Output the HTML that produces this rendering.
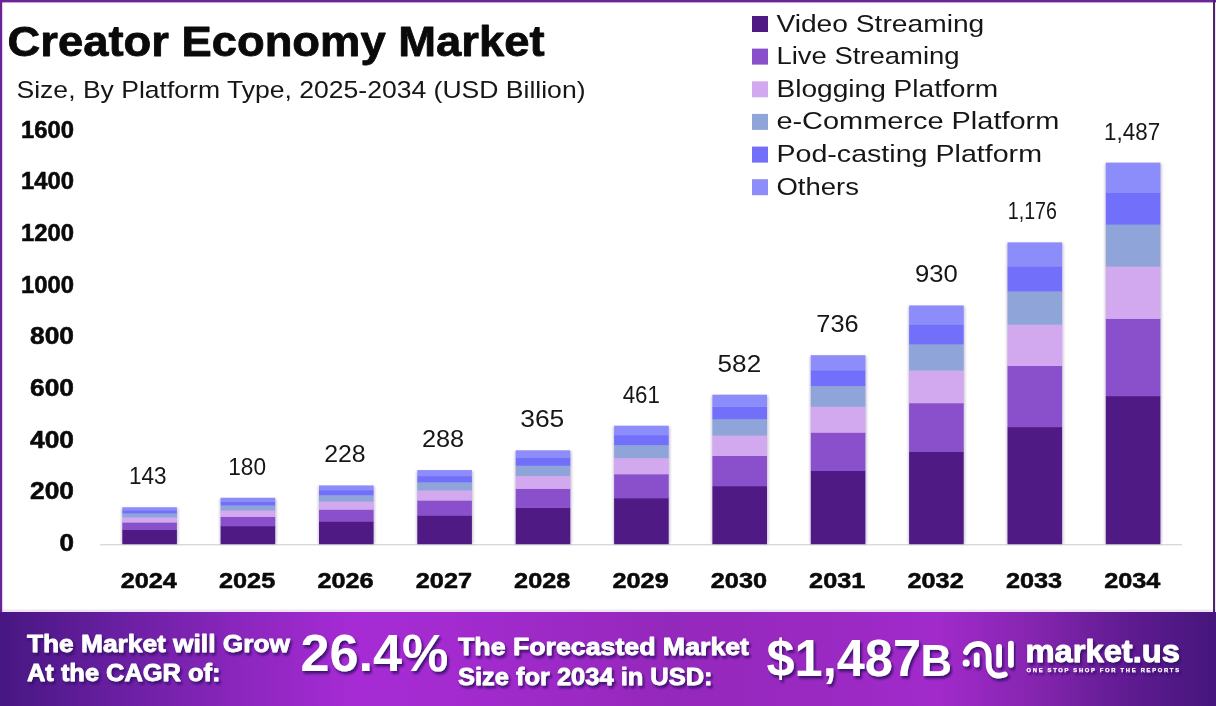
<!DOCTYPE html>
<html lang="en"><head><meta charset="utf-8"><title>Creator Economy Market</title>
<style>
html,body{margin:0;padding:0;background:#fff;}
body{width:1216px;height:706px;overflow:hidden;font-family:"Liberation Sans",sans-serif;}
svg{display:block}
svg text{font-family:"Liberation Sans",sans-serif;}
.b{font-weight:bold}
.k{fill:#0a0a0a;stroke:#0a0a0a;stroke-width:0.55px;stroke-linejoin:round}
.r{fill:#161616}
</style></head><body>
<svg width="1216" height="706" viewBox="0 0 1216 706">
<defs>
<linearGradient id="bg" x1="0" y1="0" x2="1" y2="0">
<stop offset="0" stop-color="#471782"/>
<stop offset="0.1" stop-color="#6a1fa2"/>
<stop offset="0.2" stop-color="#8c26be"/>
<stop offset="0.29" stop-color="#a62bd4"/>
<stop offset="0.36" stop-color="#a42bd0"/>
<stop offset="0.55" stop-color="#9528bc"/>
<stop offset="0.68" stop-color="#9a29c2"/>
<stop offset="0.77" stop-color="#a22acb"/>
<stop offset="0.85" stop-color="#8525b0"/>
<stop offset="0.93" stop-color="#5e1b90"/>
<stop offset="1" stop-color="#45167c"/>
</linearGradient>
<filter id="sh" x="-20%" y="-20%" width="140%" height="140%"><feGaussianBlur stdDeviation="1.2"/></filter>
<filter id="ts" x="-10%" y="-20%" width="120%" height="150%"><feDropShadow dx="1.8" dy="2.6" stdDeviation="1.2" flood-color="#360c68" flood-opacity="0.9"/></filter>
</defs>
<rect x="0" y="0" width="1216" height="706" fill="#ffffff"/>

<rect x="0" y="609.5" width="1216" height="3" fill="#efe6f5"/>
<rect x="0" y="0" width="1216" height="2.4" fill="#6a2496"/>
<rect x="0" y="0" width="2.2" height="612" fill="#6a2496"/>
<rect x="1213" y="0" width="2.1" height="612" fill="#4c2469"/>
<text class="b k" x="7.5" y="56" font-size="42.5" textLength="537" lengthAdjust="spacingAndGlyphs" style="stroke-width:0.8px">Creator Economy Market</text>
<text class="r" x="16.5" y="98.3" font-size="24.3" textLength="569" lengthAdjust="spacingAndGlyphs">Size, By Platform Type, 2025-2034 (USD Billion)</text>
<text class="b k" x="59.5" y="550.8" font-size="23.4" textLength="14.5" lengthAdjust="spacingAndGlyphs">0</text>
<text class="b k" x="30.0" y="499.1" font-size="23.4" textLength="44" lengthAdjust="spacingAndGlyphs">200</text>
<text class="b k" x="30.0" y="447.5" font-size="23.4" textLength="44" lengthAdjust="spacingAndGlyphs">400</text>
<text class="b k" x="30.0" y="395.8" font-size="23.4" textLength="44" lengthAdjust="spacingAndGlyphs">600</text>
<text class="b k" x="30.0" y="344.2" font-size="23.4" textLength="44" lengthAdjust="spacingAndGlyphs">800</text>
<text class="b k" x="21.0" y="292.5" font-size="23.4" textLength="53" lengthAdjust="spacingAndGlyphs">1000</text>
<text class="b k" x="21.0" y="240.8" font-size="23.4" textLength="53" lengthAdjust="spacingAndGlyphs">1200</text>
<text class="b k" x="21.0" y="189.2" font-size="23.4" textLength="53" lengthAdjust="spacingAndGlyphs">1400</text>
<text class="b k" x="21.0" y="137.5" font-size="23.4" textLength="53" lengthAdjust="spacingAndGlyphs">1600</text>
<rect x="100" y="544" width="1082" height="1.4" fill="#d9d9d9"/>
<rect x="121.3" y="508.2" width="57.1" height="35.7" fill="#7a6a9a" opacity="0.35" filter="url(#sh)"/>
<rect x="122.3" y="529.67" width="54.6" height="14.53" fill="#4f1a84"/>
<rect x="122.3" y="522.23" width="54.6" height="7.74" fill="#8a50cc"/>
<rect x="122.3" y="517.21" width="54.6" height="5.32" fill="#d2a8ee"/>
<rect x="122.3" y="513.17" width="54.6" height="4.33" fill="#8fa5da"/>
<rect x="122.3" y="510.13" width="54.6" height="3.34" fill="#7270fa"/>
<rect x="122.3" y="507.23" width="54.6" height="3.20" fill="#8c8cfa"/>
<text class="r" x="129.0" y="484.2" font-size="24.6" textLength="37.6" lengthAdjust="spacingAndGlyphs">143</text>
<text class="b k" x="120.7" y="588.4" font-size="22.5" textLength="56.2" lengthAdjust="spacingAndGlyphs">2024</text>
<rect x="219.6" y="498.7" width="57.1" height="45.2" fill="#7a6a9a" opacity="0.35" filter="url(#sh)"/>
<rect x="220.6" y="525.99" width="54.6" height="18.21" fill="#4f1a84"/>
<rect x="220.6" y="516.62" width="54.6" height="9.67" fill="#8a50cc"/>
<rect x="220.6" y="510.30" width="54.6" height="6.62" fill="#d2a8ee"/>
<rect x="220.6" y="505.22" width="54.6" height="5.38" fill="#8fa5da"/>
<rect x="220.6" y="501.39" width="54.6" height="4.13" fill="#7270fa"/>
<rect x="220.6" y="497.75" width="54.6" height="3.95" fill="#8c8cfa"/>
<text class="r" x="228.2" y="474.7" font-size="24.6" textLength="37.8" lengthAdjust="spacingAndGlyphs">180</text>
<text class="b k" x="219.0" y="588.4" font-size="22.5" textLength="56.2" lengthAdjust="spacingAndGlyphs">2025</text>
<rect x="318.0" y="486.4" width="57.1" height="57.5" fill="#7a6a9a" opacity="0.35" filter="url(#sh)"/>
<rect x="319.0" y="521.22" width="54.6" height="22.98" fill="#4f1a84"/>
<rect x="319.0" y="509.35" width="54.6" height="12.17" fill="#8a50cc"/>
<rect x="319.0" y="501.34" width="54.6" height="8.31" fill="#d2a8ee"/>
<rect x="319.0" y="494.91" width="54.6" height="6.73" fill="#8fa5da"/>
<rect x="319.0" y="490.06" width="54.6" height="5.15" fill="#7270fa"/>
<rect x="319.0" y="485.44" width="54.6" height="4.92" fill="#8c8cfa"/>
<text class="r" x="324.2" y="462.4" font-size="24.6" textLength="41.5" lengthAdjust="spacingAndGlyphs">228</text>
<text class="b k" x="317.4" y="588.4" font-size="22.5" textLength="56.2" lengthAdjust="spacingAndGlyphs">2026</text>
<rect x="416.3" y="471.1" width="57.1" height="72.8" fill="#7a6a9a" opacity="0.35" filter="url(#sh)"/>
<rect x="417.3" y="515.25" width="54.6" height="28.95" fill="#4f1a84"/>
<rect x="417.3" y="500.26" width="54.6" height="15.29" fill="#8a50cc"/>
<rect x="417.3" y="490.14" width="54.6" height="10.42" fill="#d2a8ee"/>
<rect x="417.3" y="482.02" width="54.6" height="8.42" fill="#8fa5da"/>
<rect x="417.3" y="475.89" width="54.6" height="6.43" fill="#7270fa"/>
<rect x="417.3" y="470.06" width="54.6" height="6.13" fill="#8c8cfa"/>
<text class="r" x="421.9" y="447.1" font-size="24.6" textLength="42.3" lengthAdjust="spacingAndGlyphs">288</text>
<text class="b k" x="415.8" y="588.4" font-size="22.5" textLength="56.2" lengthAdjust="spacingAndGlyphs">2027</text>
<rect x="514.7" y="451.3" width="57.1" height="92.6" fill="#7a6a9a" opacity="0.35" filter="url(#sh)"/>
<rect x="515.7" y="507.59" width="54.6" height="36.61" fill="#4f1a84"/>
<rect x="515.7" y="488.59" width="54.6" height="19.30" fill="#8a50cc"/>
<rect x="515.7" y="475.77" width="54.6" height="13.12" fill="#d2a8ee"/>
<rect x="515.7" y="465.47" width="54.6" height="10.59" fill="#8fa5da"/>
<rect x="515.7" y="457.71" width="54.6" height="8.07" fill="#7270fa"/>
<rect x="515.7" y="450.31" width="54.6" height="7.69" fill="#8c8cfa"/>
<text class="r" x="520.2" y="427.3" font-size="24.6" textLength="44.1" lengthAdjust="spacingAndGlyphs">365</text>
<text class="b k" x="514.1" y="588.4" font-size="22.5" textLength="56.2" lengthAdjust="spacingAndGlyphs">2028</text>
<rect x="613.1" y="426.7" width="57.1" height="117.2" fill="#7a6a9a" opacity="0.35" filter="url(#sh)"/>
<rect x="614.1" y="498.04" width="54.6" height="46.16" fill="#4f1a84"/>
<rect x="614.1" y="474.04" width="54.6" height="24.29" fill="#8a50cc"/>
<rect x="614.1" y="457.85" width="54.6" height="16.49" fill="#d2a8ee"/>
<rect x="614.1" y="444.85" width="54.6" height="13.30" fill="#8fa5da"/>
<rect x="614.1" y="435.04" width="54.6" height="10.11" fill="#7270fa"/>
<rect x="614.1" y="425.70" width="54.6" height="9.64" fill="#8c8cfa"/>
<text class="r" x="622.7" y="402.7" font-size="24.6" textLength="37.2" lengthAdjust="spacingAndGlyphs">461</text>
<text class="b k" x="612.5" y="588.4" font-size="22.5" textLength="56.2" lengthAdjust="spacingAndGlyphs">2029</text>
<rect x="711.4" y="395.7" width="57.1" height="148.2" fill="#7a6a9a" opacity="0.35" filter="url(#sh)"/>
<rect x="712.4" y="486.00" width="54.6" height="58.20" fill="#4f1a84"/>
<rect x="712.4" y="455.71" width="54.6" height="30.59" fill="#8a50cc"/>
<rect x="712.4" y="435.26" width="54.6" height="20.74" fill="#d2a8ee"/>
<rect x="712.4" y="418.85" width="54.6" height="16.71" fill="#8fa5da"/>
<rect x="712.4" y="406.46" width="54.6" height="12.69" fill="#7270fa"/>
<rect x="712.4" y="394.68" width="54.6" height="12.09" fill="#8c8cfa"/>
<text class="r" x="717.6" y="371.7" font-size="24.6" textLength="43.6" lengthAdjust="spacingAndGlyphs">582</text>
<text class="b k" x="710.8" y="588.4" font-size="22.5" textLength="56.2" lengthAdjust="spacingAndGlyphs">2030</text>
<rect x="809.8" y="356.2" width="57.1" height="187.7" fill="#7a6a9a" opacity="0.35" filter="url(#sh)"/>
<rect x="810.8" y="470.68" width="54.6" height="73.52" fill="#4f1a84"/>
<rect x="810.8" y="432.37" width="54.6" height="38.61" fill="#8a50cc"/>
<rect x="810.8" y="406.52" width="54.6" height="26.15" fill="#d2a8ee"/>
<rect x="810.8" y="385.76" width="54.6" height="21.06" fill="#8fa5da"/>
<rect x="810.8" y="370.10" width="54.6" height="15.96" fill="#7270fa"/>
<rect x="810.8" y="355.19" width="54.6" height="15.21" fill="#8c8cfa"/>
<text class="r" x="816.3" y="332.2" font-size="24.6" textLength="42.3" lengthAdjust="spacingAndGlyphs">736</text>
<text class="b k" x="809.1" y="588.4" font-size="22.5" textLength="56.2" lengthAdjust="spacingAndGlyphs">2031</text>
<rect x="908.1" y="306.4" width="57.1" height="237.5" fill="#7a6a9a" opacity="0.35" filter="url(#sh)"/>
<rect x="909.1" y="451.38" width="54.6" height="92.82" fill="#4f1a84"/>
<rect x="909.1" y="402.97" width="54.6" height="48.71" fill="#8a50cc"/>
<rect x="909.1" y="370.31" width="54.6" height="32.97" fill="#d2a8ee"/>
<rect x="909.1" y="344.08" width="54.6" height="26.53" fill="#8fa5da"/>
<rect x="909.1" y="324.29" width="54.6" height="20.09" fill="#7270fa"/>
<rect x="909.1" y="305.45" width="54.6" height="19.14" fill="#8c8cfa"/>
<text class="r" x="915.0" y="282.4" font-size="24.6" textLength="42.8" lengthAdjust="spacingAndGlyphs">930</text>
<text class="b k" x="907.5" y="588.4" font-size="22.5" textLength="56.2" lengthAdjust="spacingAndGlyphs">2032</text>
<rect x="1006.5" y="243.4" width="57.1" height="300.5" fill="#7a6a9a" opacity="0.35" filter="url(#sh)"/>
<rect x="1007.5" y="426.91" width="54.6" height="117.29" fill="#4f1a84"/>
<rect x="1007.5" y="365.70" width="54.6" height="61.51" fill="#8a50cc"/>
<rect x="1007.5" y="324.39" width="54.6" height="41.61" fill="#d2a8ee"/>
<rect x="1007.5" y="291.22" width="54.6" height="33.47" fill="#8fa5da"/>
<rect x="1007.5" y="266.19" width="54.6" height="25.33" fill="#7270fa"/>
<rect x="1007.5" y="242.37" width="54.6" height="24.12" fill="#8c8cfa"/>
<text class="r" x="1007.8" y="219.4" font-size="24.6" textLength="49.1" lengthAdjust="spacingAndGlyphs">1,176</text>
<text class="b k" x="1005.9" y="588.4" font-size="22.5" textLength="56.2" lengthAdjust="spacingAndGlyphs">2033</text>
<rect x="1104.8" y="163.6" width="57.1" height="380.3" fill="#7a6a9a" opacity="0.35" filter="url(#sh)"/>
<rect x="1105.8" y="395.97" width="54.6" height="148.23" fill="#4f1a84"/>
<rect x="1105.8" y="318.57" width="54.6" height="77.70" fill="#8a50cc"/>
<rect x="1105.8" y="266.34" width="54.6" height="52.53" fill="#d2a8ee"/>
<rect x="1105.8" y="224.40" width="54.6" height="42.24" fill="#8fa5da"/>
<rect x="1105.8" y="192.75" width="54.6" height="31.95" fill="#7270fa"/>
<rect x="1105.8" y="162.63" width="54.6" height="30.42" fill="#8c8cfa"/>
<text class="r" x="1104.1" y="139.6" font-size="24.6" textLength="56.0" lengthAdjust="spacingAndGlyphs">1,487</text>
<text class="b k" x="1104.2" y="588.4" font-size="22.5" textLength="56.2" lengthAdjust="spacingAndGlyphs">2034</text>
<rect x="752" y="16.0" width="16" height="16" fill="#4f1a84"/>
<text class="r" x="776.4" y="31.5" font-size="24.2" textLength="207.9" lengthAdjust="spacingAndGlyphs">Video Streaming</text>
<rect x="752" y="48.6" width="16" height="16" fill="#8a50cc"/>
<text class="r" x="776.4" y="64.2" font-size="24.2" textLength="183.2" lengthAdjust="spacingAndGlyphs">Live Streaming</text>
<rect x="752" y="81.3" width="16" height="16" fill="#d2a8ee"/>
<text class="r" x="776.4" y="96.8" font-size="24.2" textLength="221.9" lengthAdjust="spacingAndGlyphs">Blogging Platform</text>
<rect x="752" y="113.9" width="16" height="16" fill="#8fa5da"/>
<text class="r" x="776.4" y="129.4" font-size="24.2" textLength="282.9" lengthAdjust="spacingAndGlyphs">e-Commerce Platform</text>
<rect x="752" y="146.6" width="16" height="16" fill="#7270fa"/>
<text class="r" x="776.4" y="162.1" font-size="24.2" textLength="265.6" lengthAdjust="spacingAndGlyphs">Pod-casting Platform</text>
<rect x="752" y="179.2" width="16" height="16" fill="#8c8cfa"/>
<text class="r" x="776.4" y="194.8" font-size="24.2" textLength="82.6" lengthAdjust="spacingAndGlyphs">Others</text>
<rect x="0" y="612" width="1216" height="94" fill="url(#bg)"/>
<g fill="#ffffff" stroke="#ffffff" stroke-width="0.8" stroke-linejoin="round" class="b" filter="url(#ts)">
<text x="27" y="651.5" font-size="24.8" textLength="263" lengthAdjust="spacingAndGlyphs">The Market will Grow</text>
<text x="27" y="681" font-size="24.8" textLength="193.5" lengthAdjust="spacingAndGlyphs">At the CAGR of:</text>
<text x="300.5" y="671.4" font-size="52" textLength="148" lengthAdjust="spacingAndGlyphs" stroke-width="0">26.4%</text>
<text x="458" y="655" font-size="24.8" textLength="291" lengthAdjust="spacingAndGlyphs">The Forecasted Market</text>
<text x="458" y="684.7" font-size="24.8" textLength="254.5" lengthAdjust="spacingAndGlyphs">Size for 2034 in USD:</text>
<text x="766.5" y="675.5" font-size="51.5" textLength="154.5" lengthAdjust="spacingAndGlyphs" stroke-width="0">$1,487</text>
<text x="920.5" y="675.5" font-size="44.5" textLength="31.5" lengthAdjust="spacingAndGlyphs" stroke-width="0">B</text>
<text x="1025.5" y="662.4" font-size="30.5" textLength="154.5" lengthAdjust="spacingAndGlyphs" stroke-width="0.9">market.us</text>
<text x="1026.5" y="672.1" font-size="5.8" textLength="152.5" lengthAdjust="spacing" stroke-width="0.25">ONE STOP SHOP FOR THE REPORTS</text>
</g>
<g fill="none" stroke="#ffffff" stroke-width="5.7" stroke-linecap="round" stroke-linejoin="round" filter="url(#ts)">
<path d="M966 652.2 C968.5 646.3 973.5 643.8 978 643.8 C985 643.8 988.6 649 988.6 656 L988.6 663.5 C988.6 671 992.5 675.6 998.5 675.6 C1001 675.6 1003 675.2 1004.8 674.4"/>
<path d="M976.7 655.3 L976.7 664.4"/>
<path d="M999.1 646.8 L999.1 664.8"/>
<path d="M1010.9 643.6 L1010.9 664.8"/>
<circle cx="966.1" cy="662.9" r="3.5" fill="#ffffff" stroke="none"/>
</g>
</svg></body></html>
